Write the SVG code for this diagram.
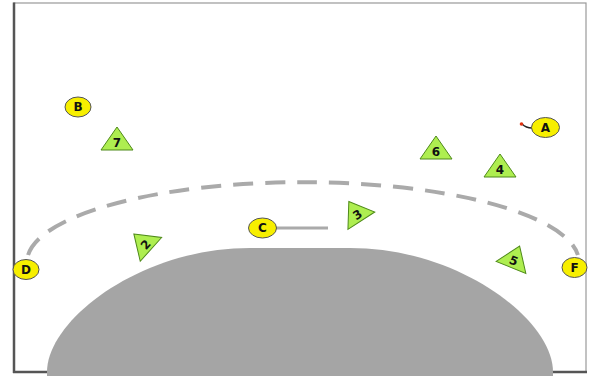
<svg xmlns="http://www.w3.org/2000/svg" width="592" height="376" viewBox="0 0 592 376">
<style>
.lbl{font-family:"DejaVu Sans","Liberation Sans",sans-serif;font-weight:bold;font-size:12px;fill:#111;text-anchor:middle;dominant-baseline:central}
.yel{fill:#f7ef00;stroke:#555;stroke-width:1}
.tri{fill:#aeee50;stroke:#4f8a1a;stroke-width:1}
</style>
<defs>
<polygon id="tri" points="0,-15 16,8 -16,8"/>
</defs>
<rect x="0" y="0" width="592" height="376" fill="#fff"/>
<g id="frame">
<rect x="14" y="3" width="572" height="369" fill="#fff" stroke="#999" stroke-width="1.2"/>
<line x1="14" y1="2.5" x2="14" y2="373" stroke="#555" stroke-width="2.5"/>
<line x1="13" y1="372" x2="587" y2="372" stroke="#555" stroke-width="2.5"/>
</g>
<path id="area" d="M47,376 L47,372 C47,320 140,248 250,248 L350,248 C460,248 553,320 553,372 L553,376 Z" fill="#a5a5a5"/>
<g id="connectors">
<path d="M28.1,255 A276,80 0 0 1 577.9,255" fill="none" stroke="#aaa" stroke-width="4" stroke-dasharray="20,12"/>
<line x1="276" y1="228" x2="328" y2="228" stroke="#aaa" stroke-width="3.2"/>
<path d="M522,124 Q526,128 532,128" fill="none" stroke="#222" stroke-width="1.5"/>
<circle cx="521.5" cy="124" r="1.8" fill="#e03010"/>
</g>
<g id="nodeA"><ellipse class="yel" cx="545.5" cy="127.5" rx="14" ry="10"/><text class="lbl" x="545.5" y="127.5">A</text></g>
<g id="nodeB"><ellipse class="yel" cx="78" cy="107" rx="13" ry="10"/><text class="lbl" x="78" y="107">B</text></g>
<g id="nodeC"><ellipse class="yel" cx="262.5" cy="228" rx="14" ry="10"/><text class="lbl" x="262.5" y="228">C</text></g>
<g id="nodeD"><ellipse class="yel" cx="26" cy="269.5" rx="13" ry="10"/><text class="lbl" x="26" y="269.5">D</text></g>
<g id="nodeF"><ellipse class="yel" cx="574.5" cy="267.5" rx="12.5" ry="10"/><text class="lbl" x="574.5" y="267.5">F</text></g>
<g id="tri7" transform="translate(117,142)"><use href="#tri" class="tri"/><text class="lbl" x="0" y="1">7</text></g>
<g id="tri6" transform="translate(436,151)"><use href="#tri" class="tri"/><text class="lbl" x="0" y="1">6</text></g>
<g id="tri4" transform="translate(500,169)"><use href="#tri" class="tri"/><text class="lbl" x="0" y="1">4</text></g>
<g id="tri2" transform="translate(145,244) rotate(-48)"><use href="#tri" class="tri"/><text class="lbl" x="0" y="1">2</text></g>
<g id="tri3" transform="translate(357,214) rotate(-33)"><use href="#tri" class="tri"/><text class="lbl" x="0" y="1">3</text></g>
<g id="tri5" transform="translate(514,260) rotate(22)"><use href="#tri" class="tri"/><text class="lbl" x="0" y="1">5</text></g>
</svg>
